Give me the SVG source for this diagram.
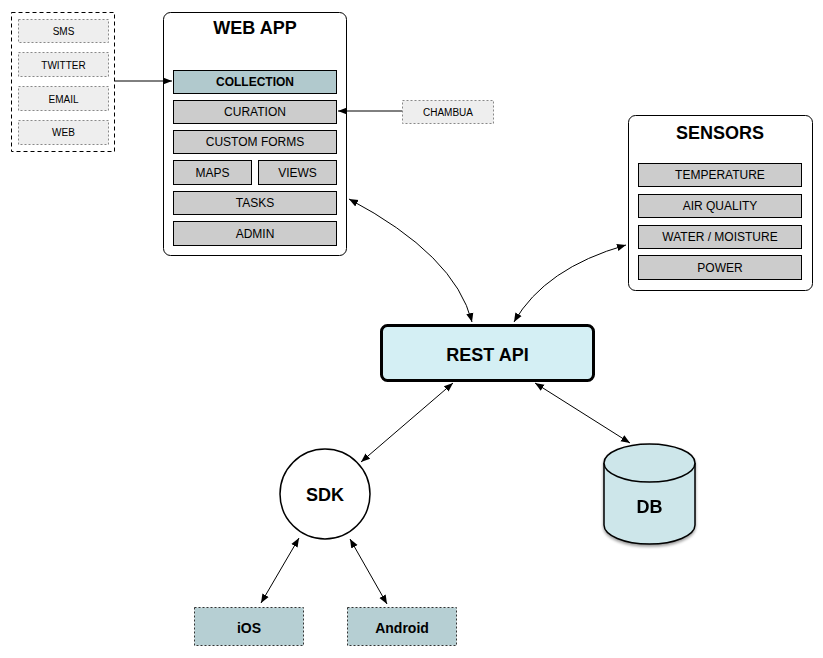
<svg xmlns="http://www.w3.org/2000/svg" width="823" height="658" viewBox="0 0 823 658">
<style>
text{font-family:"Liberation Sans",Arial,sans-serif;text-anchor:middle;dominant-baseline:central;fill:#000}
.src{fill:#eeeeee;stroke:#888;stroke-width:1;stroke-dasharray:2 2}
.src-t{font-size:10px}
.item{fill:#cccccc;stroke:#000;stroke-width:1}
.item-t{font-size:12px}
.hl{fill:#b1c9cd;stroke:#000;stroke-width:1}
.panel{fill:#fff;stroke:#000;stroke-width:1}
.title{font-size:18px;font-weight:bold}
.mob{fill:#b6cfd3;stroke:#333;stroke-width:1;stroke-dasharray:2 2}
.bold{font-weight:bold}
.conn{fill:none;stroke:#000;stroke-width:1}
</style>
<defs>
<marker id="ah" viewBox="0 0 10 10" refX="10" refY="5" markerWidth="9" markerHeight="9" markerUnits="userSpaceOnUse" orient="auto-start-reverse">
<path d="M0,1 L10,5 L0,9 Z" fill="#000"/>
</marker>
<filter id="sh" x="-20%" y="-20%" width="140%" height="140%">
<feGaussianBlur in="SourceAlpha" stdDeviation="1.5"/>
<feOffset dx="0" dy="2" result="b"/>
<feComponentTransfer><feFuncA type="linear" slope="0.4"/></feComponentTransfer>
<feMerge><feMergeNode/><feMergeNode in="SourceGraphic"/></feMerge>
</filter>
</defs>
<rect width="823" height="658" fill="#fff"/>

<g id="sources">
<rect x="11.5" y="12.5" width="103" height="139" fill="#fff" stroke="#000" stroke-width="1" stroke-dasharray="4 3"/>
<rect class="src" x="18.5" y="19.5" width="90" height="23"/><text class="src-t" x="63.5" y="31">SMS</text>
<rect class="src" x="18.5" y="52.5" width="90" height="24"/><text class="src-t" x="63.5" y="65">TWITTER</text>
<rect class="src" x="18.5" y="86.5" width="90" height="24"/><text class="src-t" x="63.5" y="99">EMAIL</text>
<rect class="src" x="18.5" y="120.5" width="90" height="24"/><text class="src-t" x="63.5" y="132">WEB</text>
</g>

<g id="webapp">
<rect class="panel" x="163.5" y="12.5" width="183" height="243" rx="7"/>
<text class="title" x="255" y="28">WEB APP</text>
<rect class="hl" x="173.5" y="70.5" width="163" height="23"/><text class="item-t bold" x="255" y="82">COLLECTION</text>
<rect class="item" x="173.5" y="100.5" width="163" height="23"/><text class="item-t" x="255" y="112">CURATION</text>
<rect class="item" x="173.5" y="130.5" width="163" height="23"/><text class="item-t" x="255" y="142">CUSTOM FORMS</text>
<rect class="item" x="173.5" y="160.5" width="78" height="24"/><text class="item-t" x="212.5" y="173">MAPS</text>
<rect class="item" x="258.5" y="160.5" width="78" height="24"/><text class="item-t" x="297.5" y="173">VIEWS</text>
<rect class="item" x="173.5" y="191.5" width="163" height="23"/><text class="item-t" x="255" y="203">TASKS</text>
<rect class="item" x="173.5" y="221.5" width="163" height="24"/><text class="item-t" x="255" y="234">ADMIN</text>
</g>

<g id="chambua">
<rect class="src" x="402.5" y="100.5" width="91" height="23"/><text class="src-t" x="448" y="112">CHAMBUA</text>
</g>

<g id="sensors">
<rect class="panel" x="628.5" y="115.5" width="184" height="175" rx="7"/>
<text class="title" x="720" y="133">SENSORS</text>
<rect class="item" x="638.5" y="163.5" width="163" height="23"/><text class="item-t" x="720" y="175">TEMPERATURE</text>
<rect class="item" x="638.5" y="194.5" width="163" height="23"/><text class="item-t" x="720" y="206">AIR QUALITY</text>
<rect class="item" x="638.5" y="225.5" width="163" height="23"/><text class="item-t" x="720" y="237">WATER / MOISTURE</text>
<rect class="item" x="638.5" y="255.5" width="163" height="24"/><text class="item-t" x="720" y="268">POWER</text>
</g>

<g id="restapi">
<rect x="381.5" y="325.5" width="212" height="55" rx="6" fill="#d4eff4" stroke="#000" stroke-width="3"/>
<text class="title" x="487.5" y="355">REST API</text>
</g>

<g id="sdk">
<circle cx="325" cy="494" r="45" fill="#fff" stroke="#000" stroke-width="1.5"/>
<text class="title" x="325" y="495">SDK</text>
</g>

<g id="db" filter="url(#sh)">
<path d="M604,463 L604,525 A45.5,19 0 0 0 695,525 L695,463" fill="#cde6ea" stroke="#000" stroke-width="1.5"/>
<ellipse cx="649.5" cy="463" rx="45.5" ry="19" fill="#cde6ea" stroke="#000" stroke-width="1.5"/>
<text class="title" x="649.5" y="507">DB</text>
</g>

<g id="ios">
<rect class="mob" x="194.5" y="607.5" width="109" height="38"/><text class="item-t bold" x="249" y="628" style="font-size:14px">iOS</text>
</g>
<g id="android">
<rect class="mob" x="347.5" y="607.5" width="109" height="38"/><text class="item-t bold" x="402" y="628" style="font-size:14px">Android</text>
</g>

<g id="connectors">
<path class="conn" d="M115,81 L172,81" marker-end="url(#ah)"/>
<path class="conn" d="M402,111 L338,111" marker-end="url(#ah)"/>
<path class="conn" d="M349,199 Q455,255 472,322" marker-start="url(#ah)" marker-end="url(#ah)"/>
<path class="conn" d="M626,245 Q545,268 514,322" marker-start="url(#ah)" marker-end="url(#ah)"/>
<path class="conn" d="M453,383 L361,462" marker-start="url(#ah)" marker-end="url(#ah)"/>
<path class="conn" d="M535,383 L630,443" marker-start="url(#ah)" marker-end="url(#ah)"/>
<path class="conn" d="M299,538 L261,603" marker-start="url(#ah)" marker-end="url(#ah)"/>
<path class="conn" d="M350,539 L387,604" marker-start="url(#ah)" marker-end="url(#ah)"/>
</g>
</svg>
